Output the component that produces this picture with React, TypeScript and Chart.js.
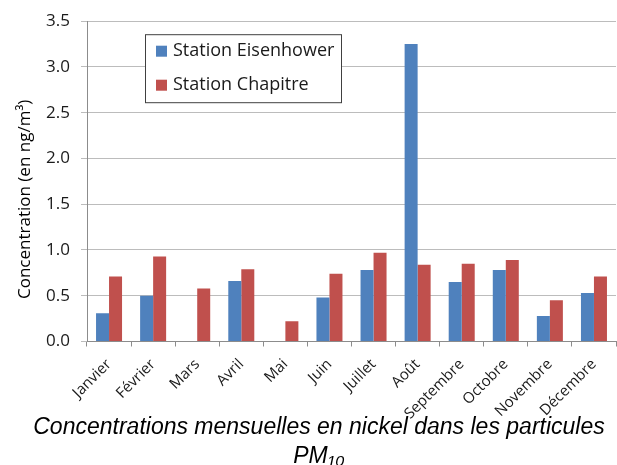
import React, { useEffect, useRef } from "react";
import { Chart, registerables } from "chart.js";

Chart.register(...registerables);

const months = [
  "Janvier", "Février", "Mars", "Avril", "Mai", "Juin",
  "Juillet", "Août", "Septembre", "Octobre", "Novembre", "Décembre",
];
const eisenhower: (number | null)[] = [0.31, 0.5, null, 0.66, null, 0.48, 0.78, 3.25, 0.65, 0.78, 0.28, 0.53];
const chapitre: number[] = [0.71, 0.93, 0.58, 0.79, 0.22, 0.74, 0.97, 0.84, 0.85, 0.89, 0.45, 0.71];
const seriesNames = ["Station Eisenhower", "Station Chapitre"];
const seriesColors = ["#4F81BD", "#C0504D"];
const yAxisTitle = "Concentration (en ng/m³)";
const chartTitle = ["Concentrations mensuelles en nickel dans les particules", "PM₁₀"];

const boxLegend = {
  id: "boxLegend",
  afterDraw(chart: any) {
    const { ctx, chartArea } = chart;
    const x = chartArea.left + 58;
    const y = chartArea.top + 13;
    const w = 196;
    const h = 68;
    ctx.save();
    ctx.fillStyle = "#ffffff";
    ctx.fillRect(x, y, w, h);
    ctx.strokeStyle = "#404040";
    ctx.lineWidth = 1;
    ctx.strokeRect(x + 0.5, y + 0.5, w, h);
    ctx.font = "18px 'Open Sans'";
    ctx.textBaseline = "middle";
    ctx.textAlign = "left";
    chart.data.datasets.forEach((ds: any, i: number) => {
      const cy = y + 17 + i * 34;
      ctx.fillStyle = ds.backgroundColor;
      ctx.fillRect(x + 11, cy - 5.5, 11, 11);
      ctx.fillStyle = "#1a1a1a";
      ctx.fillText(ds.label, x + 28, cy);
    });
    ctx.restore();
  },
};

const layoutTweaks = {
  id: "layoutTweaks",
  afterLayout(chart: any) {
    const tb = chart.titleBlock;
    if (tb) {
      tb.left += 22;
      tb.top += 6;
    }
    const xs = chart.scales.x;
    if (xs) {
      xs.bottom += 20;
    }
    const s = chart.scales.y;
    if (s && !s._titleShifted) {
      const orig = s.drawTitle.bind(s);
      s.drawTitle = function () {
        const ctx = this.ctx;
        ctx.save();
        ctx.translate(0, 18);
        orig();
        ctx.restore();
      };
      s._titleShifted = true;
    }
  },
};

export default function App() {
  const ref = useRef<HTMLCanvasElement>(null);
  useEffect(() => {
    document.body.style.margin = "0";
    const chart = new Chart(ref.current!, {
      type: "bar",
      data: {
        labels: months,
        datasets: [
          { label: seriesNames[0], data: eisenhower, backgroundColor: seriesColors[0] },
          { label: seriesNames[1], data: chapitre, backgroundColor: seriesColors[1] },
        ],
      },
      plugins: [boxLegend, layoutTweaks],
      options: {
        responsive: false,
        animation: false,
        layout: { padding: { top: 19, right: 1, bottom: 0, left: 0 } },
        datasets: { bar: { categoryPercentage: 0.59, barPercentage: 1 } },
        plugins: {
          legend: { display: false },
          tooltip: { enabled: false },
          title: {
            display: true,
            position: "bottom",
            text: chartTitle,
            color: "#000",
            font: { family: "'Liberation Sans', Arial, sans-serif", size: 23, style: "italic", weight: "normal", lineHeight: 1.25 },
            padding: { top: 0, bottom: 0 },
          },
        },
        scales: {
          x: {
            afterFit: (s: any) => { s.height = 66; },
            grid: { display: true, drawOnChartArea: false, drawTicks: true, tickLength: 5, color: "#8c8c8c", offset: true },
            border: { display: true, color: "#8c8c8c" },
            ticks: {
              minRotation: 45, maxRotation: 45, padding: 9, color: "#1a1a1a",
              font: { family: "'Open Sans'", size: 15 },
            },
          },
          y: {
            min: 0, max: 3.5,
            afterFit: (s: any) => { s.width = 87; },
            grid: { color: "#bcbcbc", tickLength: 6, drawTicks: true },
            border: { display: true, color: "#8c8c8c" },
            ticks: {
              stepSize: 0.5, padding: 11, color: "#1a1a1a",
              font: { family: "'Open Sans'", size: 17 },
              callback: (v: any) => Number(v).toFixed(1),
            },
            title: {
              display: true, text: yAxisTitle, color: "#000",
              font: { family: "'Open Sans'", size: 17 },
              padding: { top: 15, bottom: 0 },
            },
          },
        },
      },
    });
    return () => chart.destroy();
  }, []);
  return <canvas ref={ref} width={617} height={465} />;
}
